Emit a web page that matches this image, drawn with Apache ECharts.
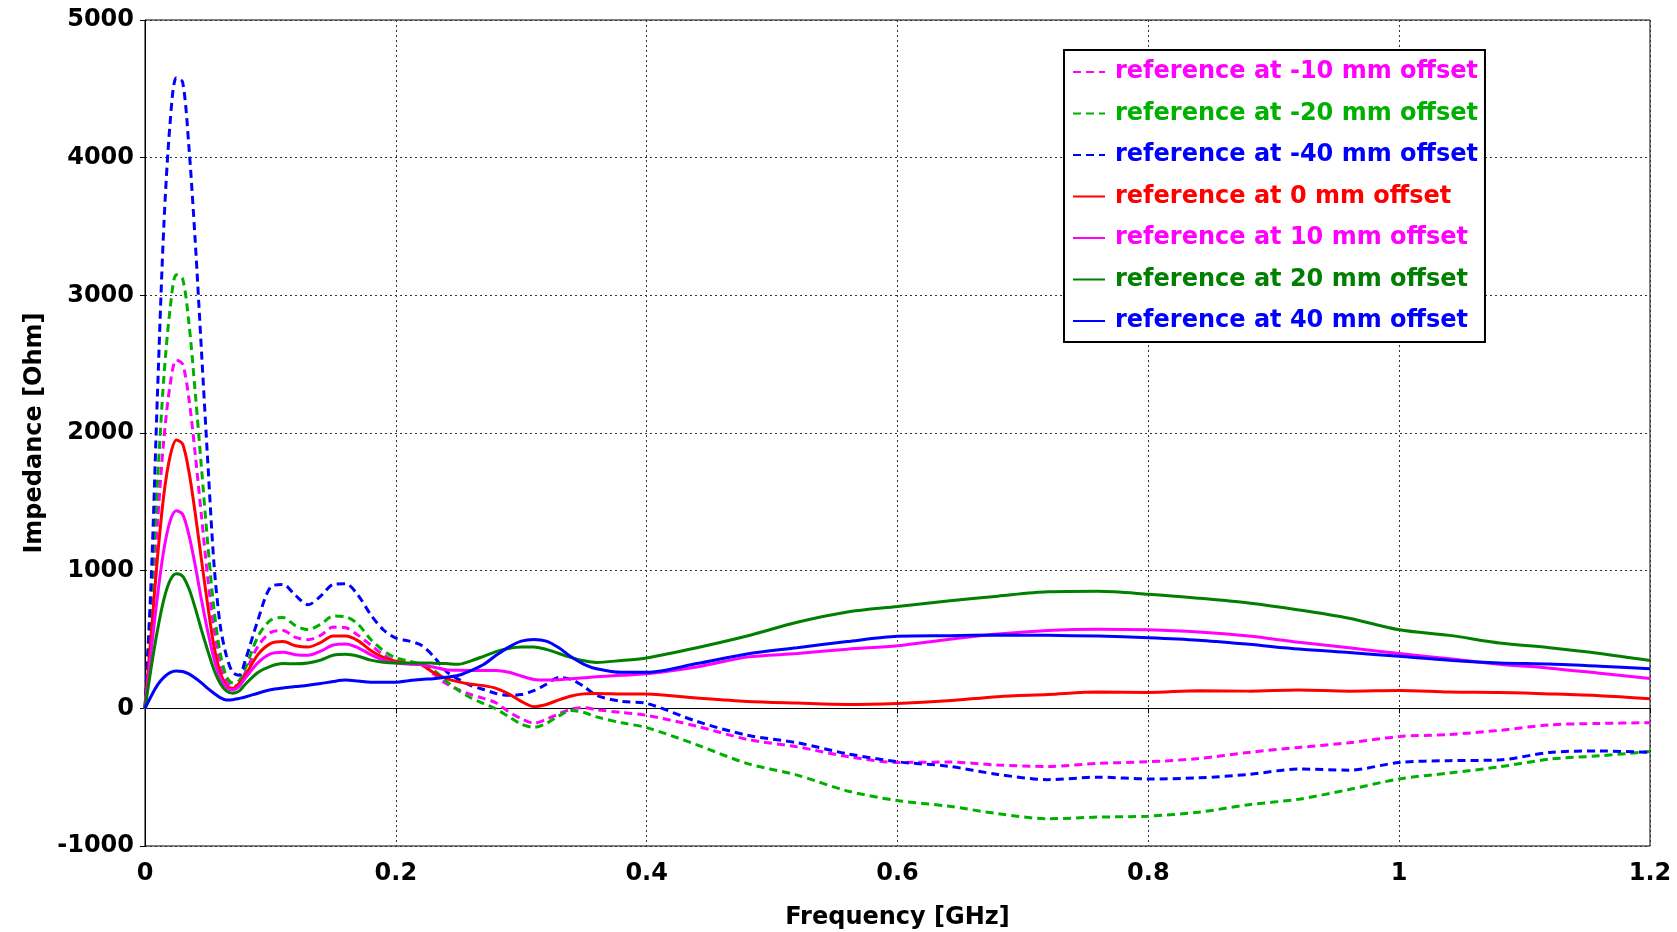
<!DOCTYPE html>
<html>
<head>
<meta charset="utf-8">
<title>Impedance vs frequency</title>
<script src="https://cdn.jsdelivr.net/npm/echarts@6/dist/echarts.min.js"></script>
<style>
  html, body { margin: 0; padding: 0; background: #fff; }
  #chart { width: 1677px; height: 932px; }
</style>
</head>
<body>
<div id="chart"></div>
<script>
// frequency points [GHz]
const freq = [0, 0.005, 0.01, 0.015, 0.02, 0.025, 0.03, 0.035, 0.04, 0.045, 0.05, 0.055, 0.06, 0.065, 0.07, 0.075, 0.08,
  0.09, 0.1, 0.11, 0.12, 0.13, 0.14, 0.15, 0.16, 0.17, 0.18, 0.19, 0.2, 0.21, 0.22, 0.23, 0.24, 0.25, 0.26, 0.27, 0.28, 0.29, 0.3, 0.31, 0.32, 0.33, 0.34, 0.35, 0.36,
  0.38, 0.4,
  0.44, 0.48, 0.52, 0.56, 0.6, 0.64, 0.68, 0.72, 0.76, 0.8, 0.84, 0.88, 0.92, 0.96, 1.0, 1.04, 1.08, 1.12, 1.16, 1.2]

// impedance [Ohm] per reference offset
const zM10 = [0, 650, 1350, 1950, 2350, 2530, 2500, 2250, 1850, 1400, 950, 580, 330, 200, 160, 175, 260,
  450, 550, 565, 515, 499, 530, 590, 585, 530, 460, 390, 342, 325, 318, 250, 180, 135, 100, 72, 40, -25, -75, -108, -80, -40, -5, 5, -10,
  -30, -51,
  -130, -225, -280, -350, -393, -390, -412, -422, -400, -388, -365, -320, -284, -250, -205, -190, -160, -120, -110, -104]
const zM20 = [0, 800, 1650, 2400, 2900, 3150, 3120, 2800, 2300, 1750, 1200, 720, 400, 230, 185, 200, 290,
  520, 640, 660, 600, 572, 610, 670, 665, 610, 500, 420, 366, 345, 320, 278, 200, 130, 75, 35, -5, -60, -115, -138, -110, -55, -15, -30, -62,
  -105, -140,
  -265, -400, -485, -600, -670, -710, -765, -802, -790, -783, -755, -700, -660, -590, -513, -470, -425, -369, -345, -313]
const zM40 = [0, 950, 2300, 3500, 4250, 4580, 4550, 4080, 3400, 2600, 1800, 1050, 600, 380, 260, 240, 350,
  640, 880, 900, 820, 752, 815, 900, 905, 820, 680, 571, 510, 490, 460, 378, 270, 210, 165, 137, 108, 95, 100, 128, 175, 225, 210, 158, 95,
  50, 36,
  -95, -195, -250, -330, -388, -420, -480, -518, -500, -513, -505, -480, -441, -449, -393, -380, -375, -320, -310, -320]
const z0 = [0, 550, 1100, 1550, 1830, 1950, 1920, 1720, 1420, 1080, 750, 450, 260, 165, 145, 180, 240,
  390, 470, 485, 455, 445, 478, 525, 525, 490, 420, 370, 342, 325, 318, 260, 218, 192, 175, 165, 145, 105, 50, 12, 28, 62, 90, 105, 108,
  105, 104,
  75, 50, 38, 28, 36, 55, 85, 100, 118, 115, 128, 125, 133, 125, 130, 118, 115, 105, 92, 70]
const zP10 = [0, 420, 820, 1150, 1360, 1435, 1410, 1260, 1040, 790, 560, 360, 220, 150, 133, 160, 220,
  330, 395, 407, 390, 385, 415, 460, 468, 440, 390, 350, 330, 322, 318, 300, 280, 276, 275, 275, 275, 262, 235, 210, 205, 208, 215, 222, 229,
  240, 251,
  300, 372, 398, 430, 455, 500, 540, 566, 575, 571, 555, 525, 480, 440, 398, 360, 320, 292, 255, 217]
const zP20 = [0, 300, 570, 790, 930, 978, 960, 870, 730, 570, 420, 280, 180, 125, 110, 125, 175,
  260, 305, 325, 324, 330, 350, 385, 392, 378, 350, 334, 330, 330, 330, 328, 325, 320, 345, 378, 412, 435, 446, 446, 428, 398, 368, 345, 333,
  348, 366,
  440, 525, 625, 700, 740, 780, 815, 846, 850, 829, 800, 765, 715, 655, 571, 530, 475, 440, 398, 347]
const zP40 = [0, 90, 170, 225, 260, 271, 268, 250, 220, 185, 145, 110, 78, 60, 63, 72, 82,
  110, 135, 148, 158, 168, 180, 195, 205, 198, 190, 190, 190, 200, 210, 215, 225, 240, 275, 318, 385, 445, 488, 500, 488, 440, 372, 320, 288,
  262, 262,
  325, 395, 440, 485, 523, 528, 532, 530, 525, 513, 495, 465, 431, 405, 378, 350, 330, 322, 306, 287]

const curves = [
  { name: 'reference at -10 mm offset', values: zM10, color: '#ff00ff', dashed: true },
  { name: 'reference at -20 mm offset', values: zM20, color: '#00b000', dashed: true },
  { name: 'reference at -40 mm offset', values: zM40, color: '#0000ff', dashed: true },
  { name: 'reference at 0 mm offset', values: z0, color: '#ff0000', dashed: false },
  { name: 'reference at 10 mm offset', values: zP10, color: '#ff00ff', dashed: false },
  { name: 'reference at 20 mm offset', values: zP20, color: '#007f00', dashed: false },
  { name: 'reference at 40 mm offset', values: zP40, color: '#0000ff', dashed: false }
]

const font = 'DejaVu Sans'
const chart = echarts.init(document.getElementById('chart'))

chart.setOption({
  animation: false,
  backgroundColor: '#fff',
  textStyle: { fontFamily: font },
  grid: {
    left: 145,
    right: 27,
    top: 20,
    bottom: 86,
    outerBoundsMode: 'none',
    containLabel: false,
    show: true,
    borderColor: '#000',
    borderWidth: 1
  },
  legend: {
    orient: 'vertical',
    left: 1064,
    top: 50,
    padding: [7, 7, 6, 8],
    backgroundColor: '#fff',
    borderColor: '#000',
    borderWidth: 2,
    itemWidth: 32,
    itemHeight: 14,
    itemGap: 11.5,
    itemStyle: { opacity: 0 },
    textStyle: { fontFamily: font, fontSize: 24, fontWeight: 'bold', lineHeight: 30, padding: [0, 0, 0, 5] },
    data: curves.map(c => ({ name: c.name, textStyle: { color: c.color } }))
  },
  xAxis: {
    type: 'value',
    min: 0,
    max: 1.2,
    interval: 0.2,
    name: 'Frequency [GHz]',
    nameLocation: 'middle',
    nameGap: 60,
    nameTextStyle: { fontFamily: font, fontSize: 24, fontWeight: 'bold', color: '#000' },
    axisLine: { show: true, lineStyle: { color: '#000', width: 1 } },
    axisTick: { show: true, length: 5, lineStyle: { color: '#000' } },
    axisLabel: { margin: 16, fontFamily: font, fontSize: 24, fontWeight: 'bold', color: '#000' },
    splitLine: { show: true, lineStyle: { color: '#333', type: [2, 3], width: 1 } }
  },
  yAxis: {
    type: 'value',
    min: -1000,
    max: 5000,
    interval: 1000,
    name: 'Impedance [Ohm]',
    nameLocation: 'middle',
    nameGap: 96,
    nameTextStyle: { fontFamily: font, fontSize: 24, fontWeight: 'bold', color: '#000' },
    axisLine: { show: true, lineStyle: { color: '#000', width: 1 } },
    axisTick: { show: true, length: 5, lineStyle: { color: '#000' } },
    axisLabel: { margin: 11, fontFamily: font, fontSize: 24, fontWeight: 'bold', color: '#000', formatter: v => String(v) },
    splitLine: { show: true, lineStyle: { color: '#333', type: [2, 3], width: 1 } }
  },
  series: curves.map(c => ({
    name: c.name,
    type: 'line',
    data: freq.map((f, i) => [f, c.values[i]]),
    symbol: 'none',
    smooth: 0.3,
    color: c.color,
    lineStyle: { color: c.color, width: 3, type: c.dashed ? [8, 5] : 'solid' }
  }))
})
</script>
</body>
</html>
